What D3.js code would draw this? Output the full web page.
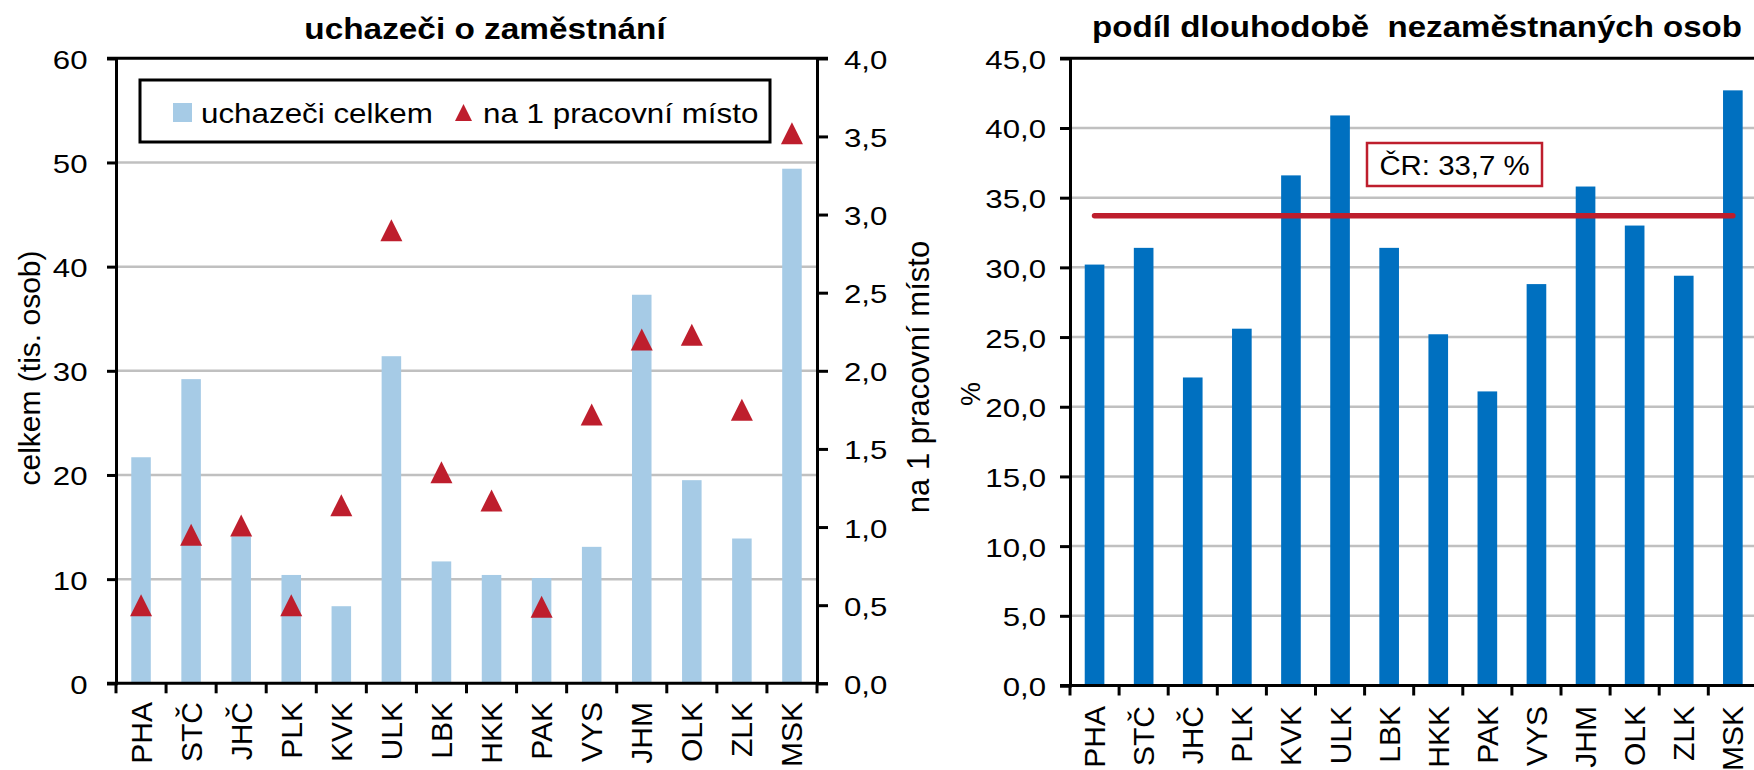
<!DOCTYPE html>
<html>
<head>
<meta charset="utf-8">
<script src="https://cdn.jsdelivr.net/npm/d3@7"></script>
<style>
  body { margin: 0; background: #fff; }
  svg { display: block; }
  text { font-family: "Liberation Sans", Arial, sans-serif; fill: #000; }
</style>
</head>
<body>
<svg id="chart" width="1754" height="770"></svg>
<script>
// data
const regions = ["PHA", "STČ", "JHČ", "PLK", "KVK", "ULK", "LBK", "HKK", "PAK", "VYS", "JHM", "OLK", "ZLK", "MSK"];
const applicants = [21.7, 29.2, 14.1, 10.4, 7.4, 31.4, 11.7, 10.4, 10.1, 13.1, 37.3, 19.5, 13.9, 49.4];
const perVacancy = [0.50, 0.95, 1.01, 0.50, 1.14, 2.90, 1.35, 1.17, 0.49, 1.72, 2.20, 2.23, 1.75, 3.52];
const longTermShare = [30.2, 31.4, 22.1, 25.6, 36.6, 40.9, 31.4, 25.2, 21.1, 28.8, 35.8, 33.0, 29.4, 42.7];
const czAverage = 33.7;
const applicantTicks = [0, 10, 20, 30, 40, 50, 60];
const vacancyTicks = [0, 0.5, 1, 1.5, 2, 2.5, 3, 3.5, 4];
const shareTicks = [0, 5, 10, 15, 20, 25, 30, 35, 40, 45];

const LIGHT_BLUE = "#a6cbe6";
const DARK_BLUE = "#0070c0";
const RED = "#be1e2d";
const GRID = "#c0c0c0";

const svg = d3.select("#chart");
const fmt1 = d => d.toFixed(1).replace(".", ",");

// text helper, sx = scale along the text's own direction
const label = (g, str, x, y, o = {}) => {
  const t = g.append("text")
    .attr("transform", `translate(${x},${y}) rotate(${o.rot || 0}) scale(${o.sx || 1},1)`)
    .attr("text-anchor", o.anchor || "start")
    .style("font-size", `${o.size || 26}px`)
    .text(str);
  if (o.bold) t.style("font-weight", "bold");
  return t;
};

// triangle marker centred on its box
const tri = (w, h) => `M0,${-h / 2}L${w / 2},${h / 2}L${-w / 2},${h / 2}Z`;

/* ---------- LEFT CHART: uchazeči o zaměstnání ---------- */
const L = { left: 116, right: 817, top: 58.3, bottom: 683.3 };
const xL = d3.scaleBand().domain(regions).range([L.left, L.right]);
const yL = d3.scaleLinear().domain([0, 60]).range([L.bottom, L.top]);
const y2L = d3.scaleLinear().domain([0, 4]).range([L.bottom, L.top]);
const gL = svg.append("g");

// gridlines
gL.append("g").selectAll("line")
  .data(applicantTicks.filter(d => d > 0 && d < 60))
  .join("line")
  .attr("x1", L.left).attr("x2", L.right)
  .attr("y1", d => yL(d)).attr("y2", d => yL(d))
  .attr("stroke", GRID).attr("stroke-width", 2.5);

// bars
gL.append("g").selectAll("rect")
  .data(regions)
  .join("rect")
  .attr("x", d => xL(d) + xL.bandwidth() * 0.305)
  .attr("width", xL.bandwidth() * 0.39)
  .attr("y", (d, i) => yL(applicants[i]))
  .attr("height", (d, i) => yL(0) - yL(applicants[i]))
  .attr("fill", LIGHT_BLUE);

// axes
const axisL = d3.axisLeft(yL).tickValues(applicantTicks).tickSize(9).tickFormat("");
const axisR = d3.axisRight(y2L).tickValues(vacancyTicks).tickSize(11).tickFormat("");
gL.append("g").attr("transform", `translate(${L.left},0)`).call(axisL);
gL.append("g").attr("transform", `translate(${L.right},0)`).call(axisR);
const bL = gL.append("g");
bL.selectAll("line.bt").data(d3.range(regions.length + 1)).join("line")
  .attr("class", "bt")
  .attr("x1", i => L.left + i * xL.bandwidth()).attr("x2", i => L.left + i * xL.bandwidth())
  .attr("y1", L.bottom).attr("y2", L.bottom + 10);
bL.append("line").attr("x1", L.left - 9).attr("x2", L.right + 11)
  .attr("y1", L.top).attr("y2", L.top);
bL.append("line").attr("x1", L.left - 9).attr("x2", L.right)
  .attr("y1", L.bottom).attr("y2", L.bottom);
bL.selectAll("line").attr("stroke", "#000").attr("stroke-width", 3);
gL.selectAll(".tick line, path.domain").attr("stroke", "#000").attr("stroke-width", 3);

// tick labels
applicantTicks.forEach(d => label(gL, d, 87.5, yL(d) + 10.5, { anchor: "end", sx: 1.2 }));
vacancyTicks.forEach(d => label(gL, fmt1(d), 844, y2L(d) + 10.5, { sx: 1.2 }));

// triangles
gL.append("g").selectAll("path")
  .data(regions)
  .join("path")
  .attr("d", tri(22, 22))
  .attr("transform", (d, i) => `translate(${xL(d) + xL.bandwidth() / 2},${y2L(perVacancy[i])})`)
  .attr("fill", RED);

// category labels
regions.forEach(d => label(gL, d, xL(d) + xL.bandwidth() / 2 + 10.5, 702,
  { rot: -90, anchor: "end", size: 30 }));

// titles
label(gL, "uchazeči o zaměstnání", 485, 39, { anchor: "middle", size: 29, bold: true, sx: 1.15 });
label(gL, "celkem (tis. osob)", 40, 368, { rot: -90, anchor: "middle", size: 30 });
label(gL, "na 1 pracovní místo", 929, 377, { rot: -90, anchor: "middle", size: 31 });

// legend
const leg = gL.append("g");
leg.append("rect").attr("x", 140).attr("y", 80).attr("width", 630).attr("height", 62)
  .attr("fill", "#fff").attr("stroke", "#000").attr("stroke-width", 3);
leg.append("rect").attr("x", 173).attr("y", 103).attr("width", 19).attr("height", 19).attr("fill", LIGHT_BLUE);
label(leg, "uchazeči celkem", 201, 123, { size: 28, sx: 1.12 });
leg.append("path").attr("d", tri(17, 17)).attr("transform", "translate(463.5,112.5)").attr("fill", RED);
label(leg, "na 1 pracovní místo", 483, 123, { size: 28, sx: 1.12 });

/* ---------- RIGHT CHART: podíl dlouhodobě nezaměstnaných ---------- */
const bandR = 49.1;
const R = { left: 1070, right: 1070 + bandR * regions.length, top: 58.3, bottom: 685.5 };
const xR = d3.scaleBand().domain(regions).range([R.left, R.right]);
const yR = d3.scaleLinear().domain([0, 45]).range([R.bottom, R.top]);
const gR = svg.append("g");

gR.append("g").selectAll("line")
  .data(shareTicks.filter(d => d > 0 && d < 45))
  .join("line")
  .attr("x1", R.left).attr("x2", R.right)
  .attr("y1", d => yR(d)).attr("y2", d => yR(d))
  .attr("stroke", GRID).attr("stroke-width", 2.5);

gR.append("g").selectAll("rect")
  .data(regions)
  .join("rect")
  .attr("x", d => xR(d) + xR.bandwidth() * 0.3)
  .attr("width", xR.bandwidth() * 0.4)
  .attr("y", (d, i) => yR(longTermShare[i]))
  .attr("height", (d, i) => yR(0) - yR(longTermShare[i]))
  .attr("fill", DARK_BLUE);

const axisLR = d3.axisLeft(yR).tickValues(shareTicks).tickSize(10).tickFormat("");
gR.append("g").attr("transform", `translate(${R.left},0)`).call(axisLR);
const ax = gR.append("g");
ax.append("line").attr("x1", R.left - 10).attr("x2", R.right).attr("y1", R.top).attr("y2", R.top);
ax.append("line").attr("x1", R.left - 10).attr("x2", R.right).attr("y1", R.bottom).attr("y2", R.bottom);
ax.selectAll("line.bt").data(d3.range(regions.length + 1)).join("line")
  .attr("class", "bt")
  .attr("x1", i => R.left + i * xR.bandwidth()).attr("x2", i => R.left + i * xR.bandwidth())
  .attr("y1", R.bottom).attr("y2", R.bottom + 10);
ax.selectAll("line").attr("stroke", "#000").attr("stroke-width", 3);
gR.selectAll(".tick line, path.domain").attr("stroke", "#000").attr("stroke-width", 3);

shareTicks.forEach(d => label(gR, fmt1(d), 1046, yR(d) + 10.5, { anchor: "end", sx: 1.2 }));

// average line
const cx0 = xR(regions[0]) + xR.bandwidth() / 2;
const cx1 = xR(regions[regions.length - 1]) + xR.bandwidth() / 2;
gR.append("line").attr("x1", cx0).attr("x2", cx1)
  .attr("y1", yR(czAverage)).attr("y2", yR(czAverage))
  .attr("stroke", RED).attr("stroke-width", 5.5).attr("stroke-linecap", "round");

// average label
gR.append("rect").attr("x", 1367).attr("y", 143).attr("width", 175).attr("height", 43)
  .attr("fill", "#fff").attr("stroke", RED).attr("stroke-width", 2.5);
label(gR, `ČR: ${fmt1(czAverage)} %`, 1454.5, 175, { anchor: "middle", size: 28, sx: 1.05 });

regions.forEach(d => label(gR, d, xR(d) + xR.bandwidth() / 2 + 10.5, 706,
  { rot: -90, anchor: "end", size: 30 }));

label(gR, "podíl dlouhodobě  nezaměstnaných osob", 1417, 37,
  { anchor: "middle", size: 29, bold: true, sx: 1.14 }).style("white-space", "pre");
label(gR, "%", 980, 394, { rot: -90, anchor: "middle", size: 27 });
</script>
</body>
</html>
